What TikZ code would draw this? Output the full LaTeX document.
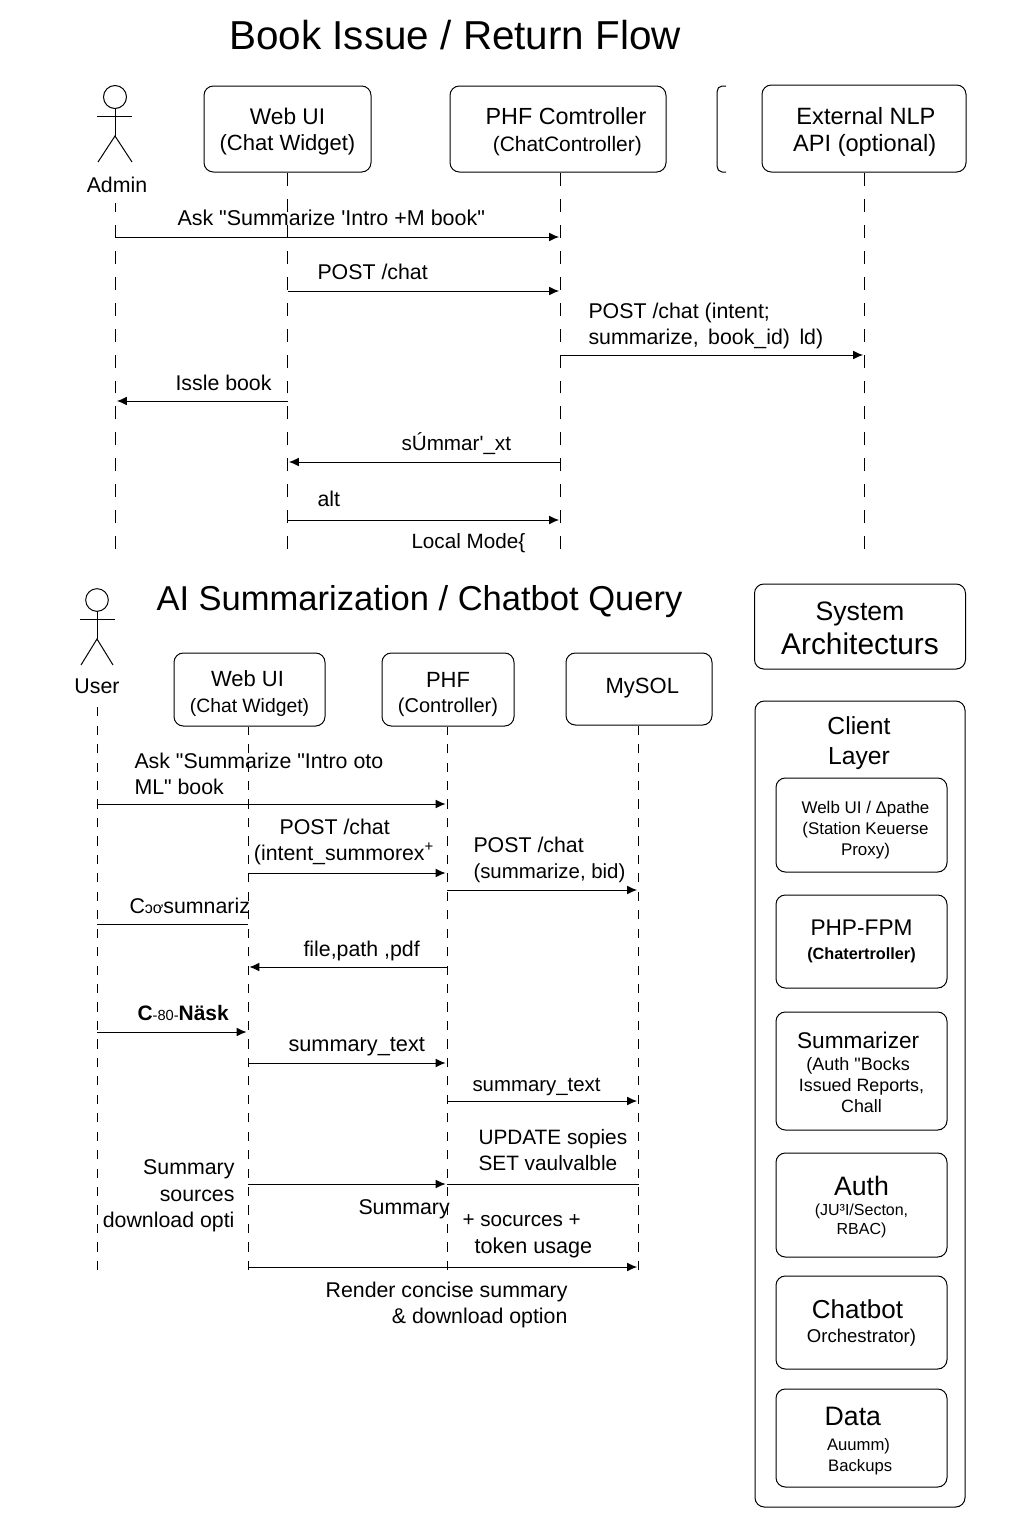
\documentclass[tikz,border=0pt]{standalone}
\usepackage{fontspec}
\setmainfont{Liberation Sans}[Ligatures=TeXOff]
\usetikzlibrary{positioning, arrows.meta}
\newcommand{\fsz}[2]{\fontsize{#1}{#2}\selectfont}
% first line of a box: pushes its text down by #1 px
\newcommand{\dn}[1]{\rule{0pt}{\dimexpr\fontcharht\font`A+#1\dimexpr 1.5pt\relax\relax}}
\tikzset{
  lifeline/.style={dashed, dash pattern=on #1pt off #1pt},
  msg/.style={->, shorten >=1pt},
  sized/.style 2 args={minimum width=#1*0.75pt, minimum height=#2*0.75pt},
  box/.style={draw, rounded corners=7pt, inner sep=0pt, align=center, font=\fsz{16.5}{20}},
  inbox/.style={box, sized={171}{#1}, font=\fsz{17}{20}},
  lbl/.style={inner sep=0pt, align=left, font=\fsz{16}{19}},
  title/.style={inner sep=0pt, anchor=west},
  actor/.style={draw, circle, inner sep=0pt, minimum size=17.25pt}
}
\begin{document}
\begin{tikzpicture}[>={Latex[length=7.5pt,width=6.5pt]}, x=0.75pt, y=-0.75pt, line width=0.75pt]
    \useasboundingbox (0,0) rectangle (1024,1536);
    % top flow
    \node[title, font=\fsz{30.3}{34}] (toptitle) at (229,35) {Book Issue / Return Flow};
    \node[actor] (adminhead) at (115,97) {};
    \node[lbl, anchor=center] (admin) at (117,185) {Admin};
    \coordinate (adminhip) at (115,136);
    \draw (adminhead) -- (adminhip);
    \draw (97,116) -- (132,116);
    \draw (98,162) -- (adminhip) -- (132,162);
    \node[box, sized={167}{86}] (webui) at (287.5,129) {{\fsz{17}{20}\dn{3}Web UI}\\(Chat Widget)};
    \node[box, sized={216}{86}] (phf) at (558,129) {{\fsz{17.5}{20}\dn{3}\hspace*{12pt}PHF Comtroller}\\{\fsz{15.7}{20}\hspace*{14pt}(ChatController)}};
    \node[box, sized={204}{87}, font=\fsz{17.7}{20}] (nlp) at (864,128.5) {\dn{3.5}\hspace*{3pt}External NLP\\\hspace*{1pt}API (optional)};
    \draw (726,86) -- (722,86) to[out=180,in=90] (717,92) -- (717,166) to[out=-90,in=180] (722,172) -- (726,172);
    % lifelines
    \foreach \n/\x/\s in {admin/115.5/7, webui/287.5/0, phf/560.5/0, nlp/864.5/0}{
      \coordinate (\n end) at (\x,549);
      \draw[lifeline=9.72, shorten >=\s pt] (\n end) -- (\n end |- \n.south);
    }
    % messages
    \draw[msg] (adminend |- 0,237) -- (phfend |- 0,237);
    \draw[msg] (webuiend |- 0,291) -- (phfend |- 0,291);
    \draw[msg] (phfend |- 0,355) -- (nlpend |- 0,355);
    \draw[msg] (webuiend |- 0,401) -- (adminend |- 0,401);
    \draw[msg] (phfend |- 0,462) -- (webuiend |- 0,462);
    \draw[msg] (webuiend |- 0,520) -- (phfend |- 0,520);
    \node[lbl, anchor=west, font=\fsz{16.1}{19}] (m1) at (177,218) {Ask "Summarize 'Intro +M book"};
    \node[lbl, anchor=west] (m2) at (317,272) {POST /chat};
    \node[lbl, anchor=west] (m3) at (588,326) {POST /chat (intent;\\summarize, \,book\_id) \,ld)};
    \node[lbl, anchor=west] (m4) at (175,383) {Issle book};
    \node[lbl, anchor=west, font=\fsz{15.5}{19}] (m5) at (401,444) {sÚmmar'\_xt};
    \node[lbl, anchor=west] (m6) at (317,499) {alt};
    \node[lbl, anchor=west, font=\fsz{15.5}{19}] (m7) at (411,543) {Local Mode\{};
    % lower flow
    \node[title, font=\fsz{25.9}{30}] (lowtitle) at (156,602) {AI Summarization / Chatbot Query};
    \node[actor, minimum size=17pt] (userhead) at (97,600) {};
    \node[lbl, anchor=center] (user) at (97,686) {User};
    \coordinate (userhip) at (97,639);
    \draw (userhead) -- (userhip);
    \draw (80,619) -- (115,619);
    \draw (81,665) -- (userhip) -- (113,665);
    \node[box, sized={151}{73}, font=\fsz{14.5}{19}] (webtwo) at (249.5,689.5) {{\fsz{16.5}{20}\dn{4.5}\hspace*{-3pt}Web UI}\\(Chat Widget)};
    \node[box, sized={132}{73}, font=\fsz{15}{19}] (ctrl) at (448,689.5) {{\fsz{16.5}{20}\dn{5}PHF}\\(Controller)};
    \node[box, sized={146}{72}] (mysql) at (639,689) {\rule[-5pt]{0pt}{0pt}\hspace*{5pt}MySOL};
    \foreach \n/\x/\s in {user/97/7, webtwo/248/0, ctrl/447/0, mysql/638.5/0}{
      \coordinate (\n end) at (\x,1270);
      \draw[lifeline=6.92, shorten >=\s pt] (\n end) -- (\n end |- \n.south);
    }
    \draw[msg] (userend |- 0,804) -- (ctrlend |- 0,804);
    \draw[msg] (webtwoend |- 0,873) -- (ctrlend |- 0,873);
    \draw[msg] (ctrlend |- 0,890) -- (mysqlend |- 0,890);
    \draw (userend |- 0,924) -- (webtwoend |- 0,924);
    \draw[msg] (ctrlend |- 0,967) -- (webtwoend |- 0,967);
    \draw[msg] (userend |- 0,1032) -- (webtwoend |- 0,1032);
    \draw[msg] (webtwoend |- 0,1063) -- (ctrlend |- 0,1063);
    \draw[msg] (ctrlend |- 0,1101) -- (mysqlend |- 0,1101);
    \draw[msg] (webtwoend |- 0,1184) -- (ctrlend |- 0,1184);
    \draw (ctrlend |- 0,1184) -- (mysqlend |- 0,1184);
    \draw[msg] (webtwoend |- 0,1267) -- (mysqlend |- 0,1267);
    \node[lbl, anchor=west] (n1) at (134,774) {Ask "Summarize "Intro oto\\ML" book};
    \node[lbl, anchor=north, align=center] (n2) at (344,819) {\hspace*{-14pt}POST /chat\\(intent\_summorex\textsuperscript{+}};
    \node[lbl, anchor=west] (n3) at (473,860) {POST /chat\\{\fsz{15.3}{19}(summarize, bid)}};
    \node[lbl, anchor=west] (n4) at (129,906) {C{\fsz{12}{9}ɔơ}sumnariz};
    \node[lbl, anchor=west] (n5) at (303,951) {file,path ,pdf};
    \node[lbl, anchor=west, font=\bfseries\fsz{15.7}{19}] (n6) at (137,1013) {C{\mdseries\fsz{11}{9}-80-}Näsk};
    \node[lbl, anchor=west, font=\fsz{16.3}{19}] (n7) at (288,1047) {summary\_text};
    \node[lbl, anchor=west, font=\fsz{15.3}{19}] (n8) at (472,1087) {summary\_text};
    \node[lbl, anchor=west, font=\fsz{15.6}{19}] (n9) at (478,1150) {UPDATE sopies\\SET vaulvalble};
    \node[lbl, anchor=east, align=right, font=\fsz{16}{20}] (n10) at (235,1196) {Summary\\sources\\download opti};
    \node[lbl, anchor=west] (n11) at (358,1209) {Summary};
    \node[lbl, anchor=west, font=\fsz{15.5}{20}] (n12) at (462,1236) {+ socurces +\\{\fsz{16.2}{20}\hspace*{9pt}token usage}};
    \node[lbl, anchor=east, align=right] (n13) at (568,1305) {Render concise summary\\\& download option};
    % architecture column
    \node[box, sized={211}{85}, font=\fsz{20}{25}] (sysarch) at (860,626.5) {\dn{2}System\\{\fsz{22.4}{25}Architecturs}};
    \draw[rounded corners=7pt] (755,701) rectangle (965,1507);
    \node[inner sep=0pt, align=center, font=\fsz{18.5}{22}] (client) at (859,743) {Client\\Layer};
    \node[inbox=94, font=\fsz{12.7}{16}] (c1) at (861.5,825) {\dn{5.5}\hspace*{6pt}Welb UI / Δpathe\\\hspace*{6pt}(Station Keuerse\\\hspace*{6pt}Proxy)};
    \node[inbox=93, font=\fsz{12.2}{18}] (c2) at (861.5,941.5) {{\fsz{17}{22}PHP-FPM}\\\textbf{(Chatertroller)}};
    \node[inbox=118, font=\fsz{13.4}{16}] (c3) at (861.5,1071) {{\fsz{17}{22}\dn{2}\hspace*{-5pt}Summarizer}\\{\fsz{13.5}{16}\hspace*{-5pt}(Auth "Bocks}\\Issued Reports,\\Chall};
    \node[inbox=104, font=\fsz{12}{14.5}] (c4) at (861.5,1205) {{\fsz{20}{24}\dn{2.5}Auth}\\(JU³I/Secton,\\RBAC)};
    \node[inbox=93, font=\fsz{13.9}{18}] (c5) at (861.5,1322.5) {{\fsz{19.5}{22}\dn{0.5}\hspace*{-6pt}Chatbot}\\Orchestrator)};
    \node[inbox=98, font=\fsz{12.5}{16}] (c6) at (861.5,1438) {{\fsz{20}{24}\dn{3}\hspace*{-13pt}Data}\\[3pt]\hspace*{-4.5pt}Auumm)\\\hspace*{-2pt}Backups};
\end{tikzpicture}
\end{document}
